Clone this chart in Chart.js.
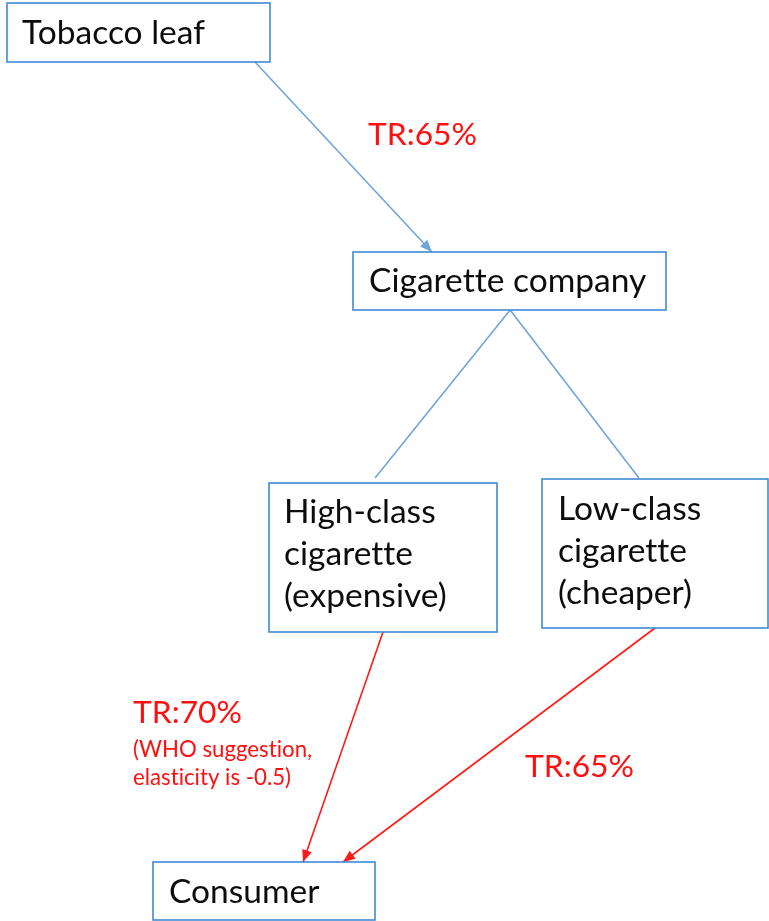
<!DOCTYPE html>
<html><head><meta charset="utf-8">
<script src="https://cdn.jsdelivr.net/npm/chart.js@4"></script>
<style>html,body{margin:0;padding:0;background:#fff;overflow:hidden}canvas{display:block}</style>
</head><body><canvas id="c" width="769" height="921"></canvas>
<script>
// ---- data ----
const nodeLines = [["Tobacco leaf"],["Cigarette company"],["High-class","cigarette","(expensive)"],["Low-class","cigarette","(cheaper)"],["Consumer"]];
const edgeFrom = [0,1,1,2,3];
const edgeTo   = [1,2,3,4,4];
const edgeArrow = [true,false,false,true,true];
const edgeKind = ["supply","branch","branch","tax","tax"];
const taxLabels = ["TR:65%","TR:70%","TR:65%"];
const taxNotes  = [[],["(WHO suggestion,","elasticity is -0.5)"],[]];

// ---- layout (pixel-space units of the hidden axes) ----
const boxLayout = [ // left, top, right, bottom, textLeft, firstBaseline
  [7,3,270,62,22,44],
  [353,252,666,310,369,292],
  [269,483,497,632,284,523],
  [542,479,768,628,558,520],
  [153,862,375,920,169,903]
];
const lineGap = 42;
const edgeAnchor = [ // fromFrac, fromDy, toFrac, toDy (from box bottom to box top)
  [0.943,0,0.252,0],
  [0.502,0,0.465,-5],
  [0.502,0,0.429,-1],
  [0.5,0,0.676,0],
  [0.5,0,0.856,0]
];
const taxPos = [[368,145],[133,723],[525,777]];
const notePos = [133,757,28];
const FONT = "Lato, 'Open Sans', sans-serif";
const kindStyle = {supply:{c:'#6ea6dc',w:1.6},branch:{c:'#6ea6dc',w:1.6},tax:{c:'#ff1a1a',w:1.6}};

function endpoints(i){
  const a = boxLayout[edgeFrom[i]], b = boxLayout[edgeTo[i]], k = edgeAnchor[i];
  return [{x:a[0]+(a[2]-a[0])*k[0], y:a[3]+k[1]}, {x:b[0]+(b[2]-b[0])*k[2], y:b[1]+k[3]}];
}
const datasets = edgeFrom.map((f,i)=>({
  data: endpoints(i), showLine:true, pointRadius:0, borderColor:kindStyle[edgeKind[i]].c,
  borderWidth:kindStyle[edgeKind[i]].w, fill:false
}));

function fitSize(ctx, text, target){
  ctx.font = "100px " + FONT;
  return 100*target/ctx.measureText(text).width;
}

const diagram = {
  id:'diagram',
  afterDatasetsDraw(chart){
    const ctx = chart.ctx, X = chart.scales.x, Y = chart.scales.y;
    const px = v=>X.getPixelForValue(v), py = v=>Y.getPixelForValue(v);
    ctx.save();
    if ('letterSpacing' in ctx) ctx.letterSpacing = '0.01px';
    // arrowheads
    edgeFrom.forEach((f,i)=>{
      if(!edgeArrow[i]) return;
      const [p,q] = endpoints(i);
      const x1=px(p.x),y1=py(p.y),x2=px(q.x),y2=py(q.y);
      const ang=Math.atan2(y2-y1,x2-x1), L=12, W=5;
      ctx.fillStyle = kindStyle[edgeKind[i]].c;
      ctx.beginPath();
      ctx.moveTo(x2,y2);
      ctx.lineTo(x2-L*Math.cos(ang)+W*Math.sin(ang), y2-L*Math.sin(ang)-W*Math.cos(ang));
      ctx.lineTo(x2-L*Math.cos(ang)-W*Math.sin(ang), y2-L*Math.sin(ang)+W*Math.cos(ang));
      ctx.closePath(); ctx.fill();
    });
    // boxes
    const nodeSize = fitSize(ctx,"Tobacco leaf",183);
    boxLayout.forEach((b,i)=>{
      ctx.fillStyle='#fff';
      ctx.fillRect(px(b[0]),py(b[1]),px(b[2])-px(b[0]),py(b[3])-py(b[1]));
      ctx.strokeStyle='#3f8ad4'; ctx.lineWidth=1.6;
      ctx.strokeRect(px(b[0]),py(b[1]),px(b[2])-px(b[0]),py(b[3])-py(b[1]));
      ctx.fillStyle='#0d0d0d'; ctx.font = nodeSize.toFixed(2)+"px "+FONT;
      ctx.textBaseline='alphabetic'; ctx.textAlign='left';
      nodeLines[i].forEach((t,j)=>ctx.fillText(t,px(b[4]),py(b[5]+j*lineGap)));
    });
    // tax labels
    const bigSize = fitSize(ctx,"TR:65%",109);
    const smallSize = fitSize(ctx,"(WHO suggestion,",179);
    ctx.fillStyle='#ff0f0f';
    taxLabels.forEach((t,i)=>{
      ctx.font = bigSize.toFixed(2)+"px "+FONT;
      ctx.fillText(t,px(taxPos[i][0]),py(taxPos[i][1]));
      ctx.font = smallSize.toFixed(2)+"px "+FONT;
      taxNotes[i].forEach((n,j)=>ctx.fillText(n,px(notePos[0]),py(notePos[1]+j*notePos[2])));
    });
    ctx.restore();
  }
};

new Chart(document.getElementById('c'),{
  type:'scatter',
  data:{datasets},
  options:{
    responsive:false, animation:false, devicePixelRatio:1,
    layout:{padding:0},
    plugins:{legend:{display:false},tooltip:{enabled:false}},
    scales:{
      x:{type:'linear',min:0,max:769,display:false},
      y:{type:'linear',min:0,max:921,reverse:true,display:false}
    }
  },
  plugins:[diagram]
});
</script></body></html>
